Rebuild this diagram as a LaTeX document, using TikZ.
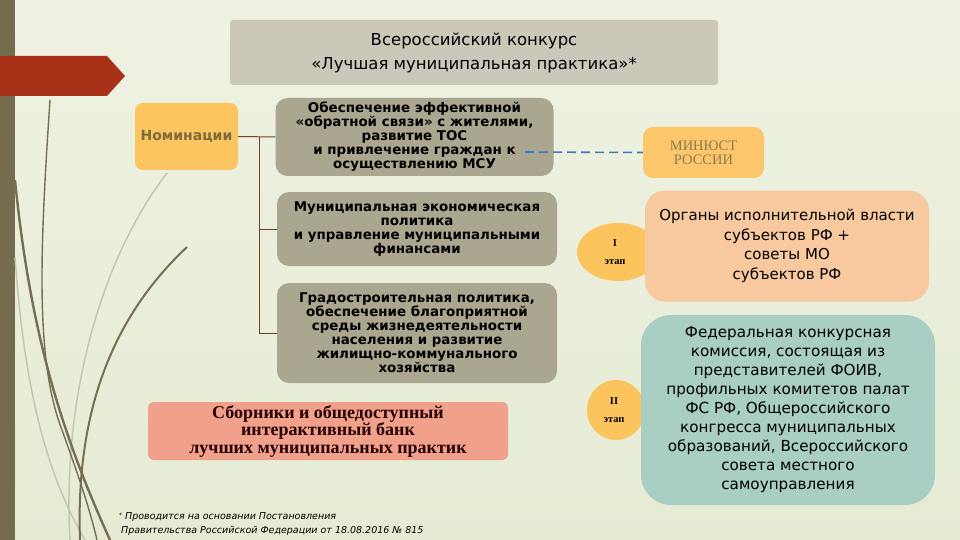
\documentclass[tikz,border=0pt]{standalone}
\usepackage{fontspec}
\setmainfont{DejaVu Sans}
\newfontfamily\serifrm{Liberation Serif}
\usetikzlibrary{shapes.geometric}

\definecolor{bgtop}{HTML}{EFF2E3}
\definecolor{bgbottom}{HTML}{E5EBD3}
\definecolor{stripbrown}{HTML}{756C50}
\definecolor{bannerred}{HTML}{A73218}
\definecolor{grassbrown}{HTML}{776E52}
\definecolor{grasspale}{HTML}{C3C8AC}
\definecolor{titlegray}{HTML}{CBC7B9}
\definecolor{nomyellow}{HTML}{FDC55F}
\definecolor{nomtext}{HTML}{7F6A3A}
\definecolor{boxolive}{HTML}{ABA68F}
\definecolor{bankpink}{HTML}{F1A08C}
\definecolor{minjustyellow}{HTML}{FCC76B}
\definecolor{minjusttext}{HTML}{8C7C55}
\definecolor{organpeach}{HTML}{F8C99F}
\definecolor{commissteal}{HTML}{A9CEC3}
\definecolor{stageyellow}{HTML}{FCC45C}
\definecolor{treered}{HTML}{7B3A28}
\definecolor{dashblue}{HTML}{3A7DBF}

\tikzset{
  nombox/.style={fill=boxolive, rounded corners=12, inner sep=0, align=center,
    minimum width=278, font=\fontsize{13.4}{14}\selectfont\bfseries},
  stagecirc/.style={ellipse, fill=stageyellow, inner sep=0, align=center,
    font=\serifrm\fontsize{10.5}{18}\selectfont\bfseries},
  treeline/.style={draw=treered, line width=1pt},
  grass/.style={draw=grassbrown, line width=2pt},
  grasslight/.style={draw=grasspale, line width=1.5pt}
}

\begin{document}
\begin{tikzpicture}[x=1pt, y=-1pt]
    \useasboundingbox (0,0) rectangle (960,540);

    % Background
    \shade[top color=bgtop, bottom color=bgbottom] (0,0) rectangle (960,540);
    \fill[stripbrown] (0,0) rectangle (15,540);

    % Grass blades
    \draw[grasslight] (167,173) .. controls (100,260) and (62,400) .. (70,540);
    \draw[grasslight] (15,257) .. controls (25,400) and (50,480) .. (85,540);
    \draw[grass, line width=1.4pt] (50,100) .. controls (40,250) and (35,360) .. (62,430)
      .. controls (80,480) and (90,510) .. (97,540);
    \draw[grass, line width=2.4pt] (15,180) .. controls (30,330) and (60,430) .. (110,540);
    \draw[grass] (187,247) .. controls (120,310) and (75,400) .. (80,540);

    % Banner
    \fill[bannerred] (0,56) -- (107,56) -- (125,76) -- (107,96) -- (0,96) -- cycle;

    % Title
    \node[fill=titlegray, rounded corners=3, inner sep=0, minimum width=488,
      minimum height=65, align=center, font=\fontsize{16.5}{24}\selectfont]
      (title) at (474,52.5)
      {Всероссийский конкурс\\«Лучшая муниципальная практика»*};

    % Nominations
    \node[fill=nomyellow, rounded corners=8, inner sep=0, minimum width=103,
      minimum height=67, text=nomtext, font=\fontsize{14}{16}\selectfont\bfseries]
      (nom) at (186.5,136.5) {Номинации};

    \node[nombox, minimum height=78] (box1) at (414.5,137)
      {Обеспечение эффективной\\«обратной связи» с жителями,\\развитие ТОС\\
       и привлечение граждан к\\осуществлению МСУ};
    \node[nombox, minimum height=74, minimum width=280] (box2) at (417,229)
      {Муниципальная экономическая\\политика\\и управление муниципальными\\финансами};
    \node[nombox, minimum height=100, minimum width=280] (box3) at (417,333)
      {Градостроительная политика,\\обеспечение благоприятной\\среды жизнедеятельности\\
       населения и развитие\\жилищно-коммунального\\хозяйства};

    \coordinate (fork) at (259,137);
    \draw[treeline] (nom.east) -- (box1.west);
    \draw[treeline] (fork) |- (box2.west);
    \draw[treeline] (fork) |- (box3.west);

    % Bank of practices
    \node[fill=bankpink, rounded corners=6, inner sep=0, minimum width=360,
      minimum height=58, align=center,
      font=\serifrm\fontsize{18}{17.5}\selectfont\bfseries, text=black!85!red]
      (bank) at (328,431)
      {Сборники и общедоступный\\интерактивный банк\\лучших муниципальных практик};

    % Ministry of Justice
    \node[fill=minjustyellow, rounded corners=10, inner sep=0, minimum width=121,
      minimum height=51, align=center, text=minjusttext,
      font=\serifrm\fontsize{14.5}{14}\selectfont]
      (minjust) at (703.5,152.5) {МИНЮСТ\\РОССИИ};
    \coordinate (dashstart) at (525,152);
    \draw[dashblue, line width=1.6pt, dash pattern=on 9pt off 5pt]
      (dashstart) -- (minjust.west);

    % Stages
    \node[stagecirc, minimum width=82, minimum height=58] (stage1) at (618,252)
      {\hspace*{-6pt}I\\\hspace*{-6pt}этап};
    \node[stagecirc, minimum width=58, minimum height=60] (stage2) at (616,410)
      {\hspace*{-4pt}II\\\hspace*{-4pt}этап};

    \node[fill=organpeach, rounded corners=20, inner sep=0, minimum width=284,
      minimum height=111, align=center, font=\fontsize{15}{19.6}\selectfont]
      (organs) at (787,246)
      {Органы исполнительной власти\\субъектов РФ +\\советы МО\\субъектов РФ};

    \node[fill=commissteal, rounded corners=30, inner sep=0, minimum width=294,
      minimum height=190, align=center, font=\fontsize{15.2}{19}\selectfont]
      (commiss) at (788,410)
      {Федеральная конкурсная\\комиссия, состоящая из\\представителей ФОИВ,\\
       профильных комитетов палат\\ФС РФ, Общероссийского\\конгресса муниципальных\\
       образований, Всероссийского\\совета местного\\самоуправления};

    % Footnote
    \node[anchor=west, inner sep=0, align=left,
      font=\fontsize{9.5}{14}\selectfont\itshape] (note) at (119,524)
      {\raisebox{2pt}{\fontsize{6}{6}\selectfont*} Проводится на основании Постановления\\
       \hspace*{2pt}Правительства Российской Федерации от 18.08.2016 № 815};
\end{tikzpicture}
\end{document}
